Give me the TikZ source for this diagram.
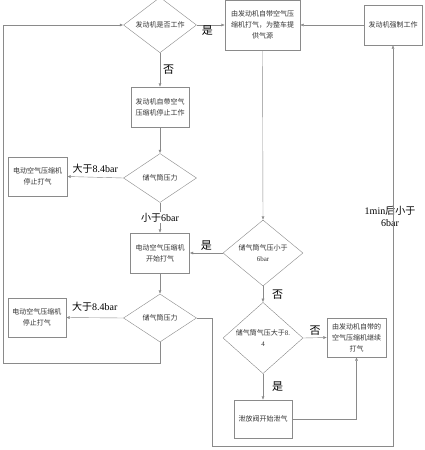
\documentclass[tikz,border=0pt]{standalone}
\usepackage{fontspec}
\setmainfont{Liberation Serif}
\newfontfamily\cjkfont{Noto Sans CJK SC}
\usetikzlibrary{arrows.meta,positioning,shapes.geometric}
\definecolor{Edge}{HTML}{8A8A8A}
\definecolor{Ink}{HTML}{333333}
\newcommand{\lat}[1]{{\rmfamily #1}}
\tikzset{
flowbox/.style={draw=Edge, thin, fill=white, align=center, inner sep=1pt, text=Ink, font=\cjkfont\fontsize{7}{11}\selectfont},
flowdiamond/.style={draw=Edge, thin, diamond, fill=white, align=center, inner sep=0pt, text=Ink, font=\cjkfont\fontsize{7}{11}\selectfont},
flowarrow/.style={-{Latex[length=3.5pt,width=3pt]}, thin, draw=Edge},
flowlabel/.style={font=\cjkfont\fontsize{11}{12}\selectfont, inner sep=1pt},
flowvalue/.style={font=\cjkfont\fontsize{10}{12}\selectfont, inner sep=1pt, align=center}
}
\begin{document}
\begin{tikzpicture}[x=1pt, y=-1pt]
  \useasboundingbox (0,0) rectangle (424,450);
  % top row
  \node[flowdiamond, minimum width=73pt, minimum height=50pt] (engine) at (160,25) {发动机是否工作};
  \node[flowbox, minimum width=75pt, minimum height=50pt, text width=68pt] (supply) at (262.5,25) {由发动机自带空气压\\缩机打气，为整车提\\供气源};
  \node[flowbox, minimum width=58pt, minimum height=40pt] (forced) at (393,25) {发动机强制工作};
  % left column
  \node[flowbox, minimum width=58pt, minimum height=40pt] (mechstop) at (160,107) {发动机自带空气\\压缩机停止工作};
  \node[flowdiamond, minimum width=73pt, minimum height=49pt] (tankA) at (160,178) {储气筒压力};
  \node[flowbox, minimum width=59pt, minimum height=39pt] (estopA) at (37.5,176.5) {电动空气压缩机\\停止打气};
  \node[flowbox, minimum width=59pt, minimum height=40pt] (estart) at (160,253) {电动空气压缩机\\开始打气};
  \node[flowdiamond, minimum width=73pt, minimum height=48pt] (tankB) at (160,318) {储气筒压力};
  \node[flowbox, minimum width=58pt, minimum height=39pt] (estopB) at (37,317.5) {电动空气压缩机\\停止打气};
  % right column
  \node[flowdiamond, minimum width=80pt, minimum height=54pt] (lowchk) at (263,253) {储气筒气压小于\\\lat{6bar}};
  \node[flowdiamond, minimum width=80pt, minimum height=54pt] (highchk) at (263,338) {储气筒气压大于\lat{8.}\\\lat{4}};
  \node[flowbox, minimum width=59pt, minimum height=39pt] (keepon) at (356.5,337.5) {由发动机自带的\\空气压缩机继续\\打气};
  \node[flowbox, minimum width=58pt, minimum height=38pt] (vent) at (263,419) {泄放阀开始泄气};
  \coordinate (loopL) at (3,363);
  \coordinate (loopR) at (212,446);
  \node[flowvalue] (timeout) at (390,216) {\lat{1min}后小于\\\lat{6bar}};
  % connectors
  \draw[flowarrow] (engine.east) -- node[flowlabel, below, pos=0.38] {是} (supply.west);
  \draw[flowarrow] (forced.west) -- (supply.east);
  \draw[flowarrow] (supply.south) -- (lowchk.north);
  \draw[flowarrow] (engine.south) -- node[flowlabel, right=2pt] {否} (mechstop.north);
  \draw[flowarrow] (mechstop.south) -- (tankA.north);
  \draw[flowarrow] (tankA.west) -- node[flowvalue, above=3pt] {大于\lat{8.4bar}} (estopA.east);
  \draw[flowarrow] (tankA.south) -- node[flowvalue, fill=white] {小于\lat{6bar}} (estart.north);
  \draw[flowarrow] (lowchk.west) -- node[flowlabel, above=1pt] {是} (estart.east);
  \draw[flowarrow] (estart.south) -- (tankB.north);
  \draw[flowarrow] (tankB.west) -- node[flowvalue, above=5pt] {大于\lat{8.4bar}} (estopB.east);
  \draw[flowarrow] (tankB.south) |- (loopL) |- (engine.west);
  \draw[flowarrow] (tankB.east) -| (loopR) -| (forced.south);
  \draw[flowarrow] (lowchk.south) -- node[flowlabel, right=8pt] {否} (highchk.north);
  \draw[flowarrow] (highchk.east) -- node[flowlabel, above=1pt] {否} (keepon.west);
  \draw[flowarrow] (highchk.south) -- node[flowlabel, right=8pt] {是} (vent.north);
  \draw[flowarrow] (vent.east) -| (keepon.south);
\end{tikzpicture}
\end{document}
